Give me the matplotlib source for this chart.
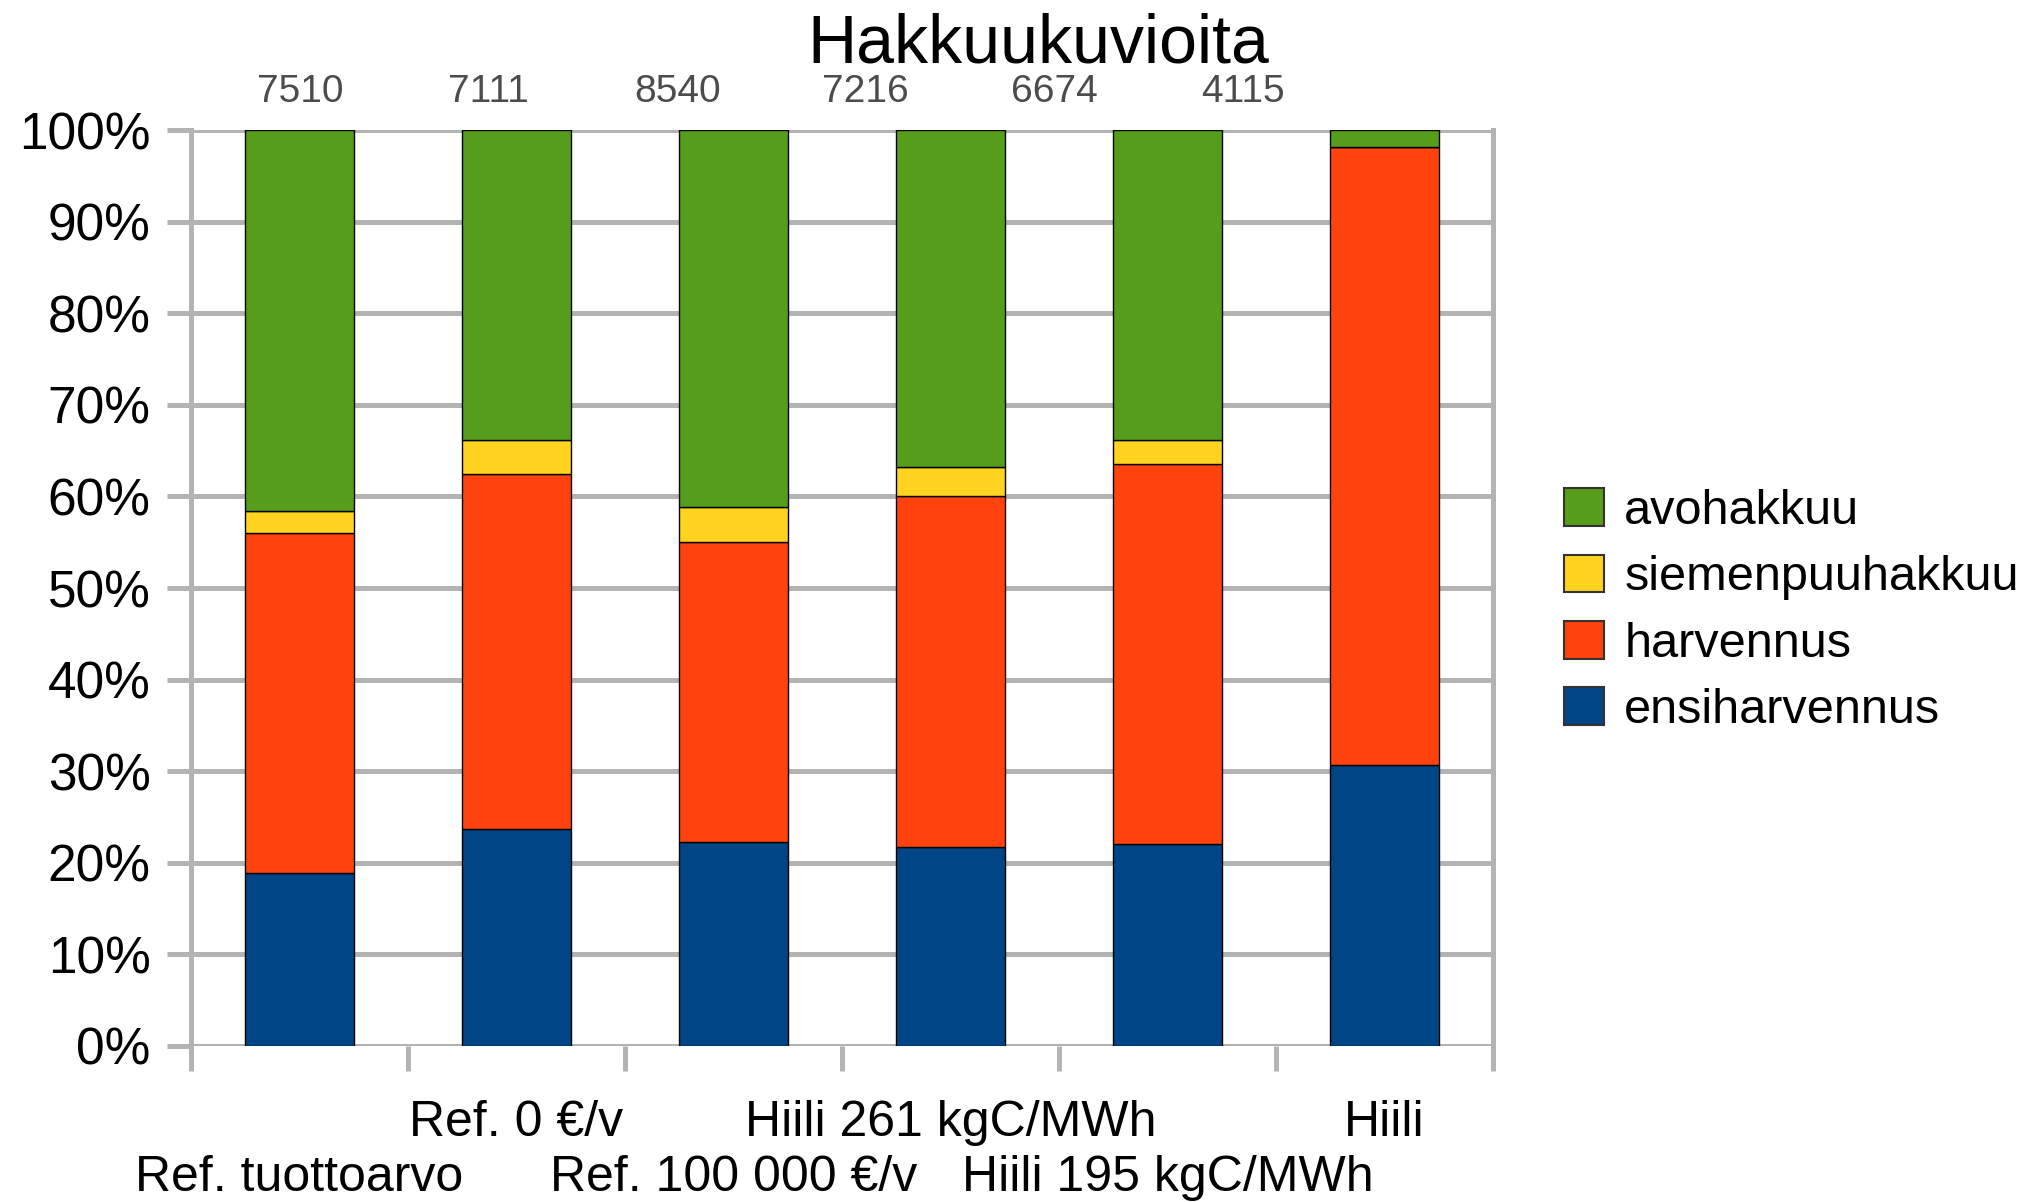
import numpy as np
import matplotlib
matplotlib.use("Agg")
import matplotlib.pyplot as plt

plt.rcParams["font.family"] = ["Liberation Sans", "DejaVu Sans"]

# ---- Data (percent of harvested stands per scenario) ----
SCENARIOS = ["Ref. tuottoarvo", "Ref. 0 €/v", "Ref. 100 000 €/v",
             "Hiili 261 kgC/MWh", "Hiili 195 kgC/MWh", "Hiili"]
COUNTS = [7510, 7111, 8540, 7216, 6674, 4115]

ensiharvennus = [18.9, 23.7, 22.3, 21.7, 22.0, 30.7]
harvennus = [37.1, 38.7, 32.7, 38.4, 41.5, 67.5]
siemenpuuhakkuu = [2.4, 3.8, 3.8, 3.1, 2.7, 0.0]
avohakkuu = [41.6, 33.8, 41.2, 36.8, 33.8, 1.8]

SERIES = [("ensiharvennus", ensiharvennus, "#004586"),
          ("harvennus", harvennus, "#ff420e"),
          ("siemenpuuhakkuu", siemenpuuhakkuu, "#ffd320"),
          ("avohakkuu", avohakkuu, "#579d1c")]

GRID = "#b3b3b3"

fig = plt.figure(figsize=(20.39, 12.02), dpi=100)
ax = fig.add_axes([0.0937, 0.1298, 0.6385, 0.762])

x = np.arange(len(SCENARIOS)) + 0.5
bottom = np.zeros(len(SCENARIOS))
for name, vals, col in SERIES:
    ax.bar(x, vals, width=0.5, bottom=bottom, color=col, edgecolor="black",
           linewidth=1.0, label=name, zorder=3)
    bottom += np.array(vals)

ax.set_xlim(0, len(SCENARIOS))
ax.set_ylim(0, 100)

# y axis: percent ticks with gray grid
ax.set_yticks(np.arange(0, 101, 10))
ax.set_yticklabels([f"{v}%" for v in range(0, 101, 10)], fontsize=37)
ax.yaxis.grid(True, color=GRID, linewidth=3.6, zorder=0)
ax.tick_params(axis="y", length=17, width=3.6, color=GRID, pad=12)

# x axis: tick marks at category borders, labels staggered on two rows
ax.set_xticks(np.arange(len(SCENARIOS) + 1))
ax.set_xticklabels([])
ax.tick_params(axis="x", which="major", length=18, width=3.6, color=GRID)
for i, (xi, s) in enumerate(zip(x, SCENARIOS)):
    drop = 65 if i % 2 else 104.5
    ax.annotate(s, (xi, 0), xycoords=("data", "axes fraction"),
                xytext=(0, -drop), textcoords="offset points",
                ha="center", va="baseline", fontsize=36,
                annotation_clip=False)

for side in ("left", "right"):
    ax.spines[side].set_color(GRID)
    ax.spines[side].set_linewidth(3.6)
for side in ("top", "bottom"):
    ax.spines[side].set_visible(False)

# title and stand counts above the plot
fig.text(0.509, 0.9476, "Hakkuukuvioita", fontsize=49, ha="center",
         va="baseline")
for i, n in enumerate(COUNTS):
    fig.text((300 + i * 188.6) / 2039, 0.915, str(n), fontsize=28,
             color="#4c4c4c", ha="center", va="baseline")

handles, names = ax.get_legend_handles_labels()
leg = fig.legend(handles[::-1], names[::-1], loc="center left",
                 bbox_to_anchor=(0.7575, 0.492), frameon=False, fontsize=35,
                 handlelength=0.82, handleheight=0.82, handletextpad=0.42,
                 labelspacing=0.42, borderaxespad=0)
for h in leg.legend_handles:
    h.set_edgecolor("#333333")
    h.set_linewidth(1.5)

fig.savefig("out.png", dpi=100)
